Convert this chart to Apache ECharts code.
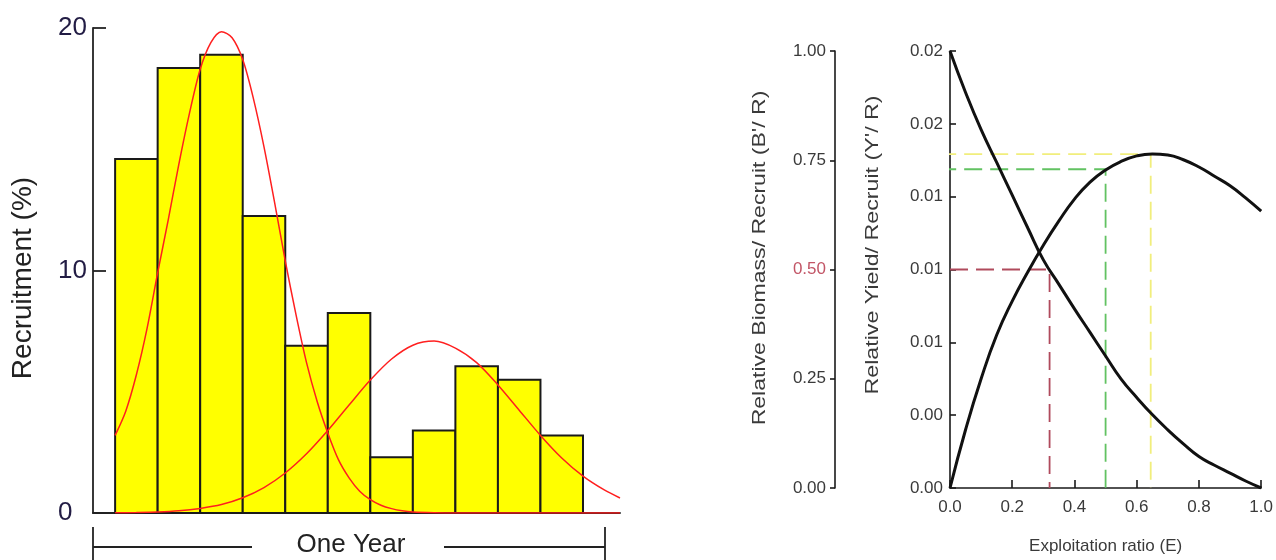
<!DOCTYPE html>
<html>
<head>
<meta charset="utf-8">
<title>Recruitment pattern and relative yield / biomass per recruit</title>
<script src="https://cdn.jsdelivr.net/npm/echarts@6.0.0/dist/echarts.min.js"></script>
<style>
  html, body { margin: 0; padding: 0; background: #ffffff; }
  #chart { width: 1276px; height: 560px; }
</style>
</head>
<body>
<div id="chart"></div>
<script>
// ---- Recruitment histogram (one year split into 11 classes) ----
const classEdges = [0, 1, 2, 3, 4, 5, 6, 7, 8, 9, 10, 11];
const recruitPct = [14.6, 18.35, 18.9, 12.25, 6.9, 8.25, 2.3, 3.4, 6.05, 5.5, 3.2];
const recruitTicks = [0, 10, 20];

// Fitted normal components (first and second recruitment pulse)
const pulseAX = [0, 0.25, 0.5, 0.75, 1, 1.25, 1.5, 1.75, 2, 2.25, 2.5, 2.75, 3, 3.25, 3.5, 3.75,
                 4, 4.25, 4.5, 4.75, 5, 5.25, 5.5, 5.75, 6, 6.25, 6.5, 6.75, 7, 7.5, 8, 9, 10, 11, 11.87];
const pulseAY = [3.2, 4.2, 5.7, 7.6, 9.9, 12.1, 14.4, 16.5, 18.3, 19.4, 19.85, 19.6, 18.7, 17.1, 15.1, 12.8,
                 10.4, 8.2, 6.2, 4.6, 3.3, 2.2, 1.45, 0.9, 0.55, 0.32, 0.18, 0.09, 0.04, 0.01, 0, 0, 0, 0, 0];
const pulseBX = [0, 0.5, 1, 1.5, 2, 2.5, 3, 3.5, 4, 4.5, 5, 5.5, 6, 6.5, 7, 7.5, 8, 8.5, 9, 9.5,
                 10, 10.5, 11, 11.5, 11.87];
const pulseBY = [0.01, 0.02, 0.04, 0.09, 0.19, 0.35, 0.63, 1.05, 1.65, 2.44, 3.4, 4.45, 5.48, 6.35, 6.92, 7.09,
                 6.8, 6.2, 5.28, 4.24, 3.2, 2.27, 1.52, 0.95, 0.62];

// ---- Relative yield and biomass per recruit vs exploitation ratio ----
const exploitE = [0, 0.05, 0.1, 0.15, 0.2, 0.25, 0.3, 0.35, 0.4, 0.45, 0.5,
                  0.55, 0.6, 0.65, 0.7, 0.75, 0.8, 0.85, 0.9, 0.95, 1.0];
const biomassPerRecruit = [1.0, 0.905, 0.82, 0.745, 0.67, 0.595, 0.522, 0.466, 0.41, 0.356, 0.302,
                           0.249, 0.207, 0.168, 0.133, 0.101, 0.072, 0.052, 0.034, 0.016, 0.0];
const yieldPerRecruit = [0, 0.0024, 0.0045, 0.0063, 0.0077, 0.0089, 0.0100, 0.0110, 0.0119, 0.0126, 0.0131,
                         0.01345, 0.01368, 0.01376, 0.01372, 0.01352, 0.01322, 0.01284, 0.01245, 0.01195, 0.0114];
const yieldTickLabels = ['0.00', '0.00', '0.01', '0.01', '0.01', '0.02', '0.02'];
const yieldStep = 0.003;

// Reference points: E50 (B'/R = 0.5), E0.1 and Emax
const e50 = 0.32, bAtE50 = 0.5;
const e10 = 0.5, yAtE10 = 0.01313;
const eMax = 0.645, yAtEMax = 0.01375;
const refLineStart = -0.038;

const zip = (xs, ys) => xs.map((x, i) => [x, ys[i]]);

const sans = "'Liberation Sans', Arial, sans-serif";
const leftInk = '#221c44';
const rightInk = '#3a3a3a';

const chart = echarts.init(document.getElementById('chart'), null, { renderer: 'canvas' });

chart.setOption({
  animation: false,
  backgroundColor: '#ffffff',
  grid: [
    { left: 93, top: 28, width: 527, height: 485 },
    { left: 950, top: 51, width: 313, height: 437 }
  ],
  xAxis: [
    {
      gridIndex: 0, type: 'value', min: -0.52, max: 11.87,
      axisLine: { show: true, onZero: false, lineStyle: { color: '#222', width: 1.8 } },
      axisTick: { show: false }, axisLabel: { show: false }, splitLine: { show: false }
    },
    {
      gridIndex: 1, type: 'value', min: 0, max: 1, interval: 0.2,
      name: 'Exploitation ratio (E)', nameLocation: 'middle', nameGap: 50,
      nameTextStyle: { fontFamily: sans, fontSize: 17, color: rightInk },
      axisLine: { show: true, onZero: false, lineStyle: { color: '#1a1a1a', width: 1.6 } },
      axisTick: { show: true, inside: true, length: 8, lineStyle: { color: '#1a1a1a', width: 1.6 } },
      axisLabel: { margin: 11, fontFamily: sans, fontSize: 17, color: rightInk,
                   formatter: v => v.toFixed(1) },
      splitLine: { show: false }
    }
  ],
  yAxis: [
    {
      gridIndex: 0, type: 'value', min: recruitTicks[0], max: recruitTicks[recruitTicks.length - 1], interval: 10,
      axisLine: { show: true, onZero: false, lineStyle: { color: '#222', width: 1.8 } },
      axisTick: { show: true, inside: true, length: 13, lineStyle: { color: '#222', width: 1.8 } },
      axisLabel: { align: 'left', margin: 35, fontFamily: sans, fontSize: 26, color: leftInk },
      splitLine: { show: false }
    },
    {
      gridIndex: 1, type: 'value', min: 0, max: 1, interval: 0.25, position: 'left', offset: 115,
      axisLine: { show: true, onZero: false, lineStyle: { color: '#1a1a1a', width: 1.6 } },
      axisTick: { show: true, inside: false, length: 5, lineStyle: { color: '#1a1a1a', width: 1.6 } },
      axisLabel: { margin: 9, fontFamily: sans, fontSize: 17,
                   color: v => (Math.abs(v - bAtE50) < 1e-9 ? '#c25566' : rightInk),
                   formatter: v => v.toFixed(2) },
      splitLine: { show: false }
    },
    {
      gridIndex: 1, type: 'value', min: 0, max: yieldStep * 6, interval: yieldStep, position: 'left', offset: 0,
      axisLine: { show: true, onZero: false, lineStyle: { color: '#1a1a1a', width: 1.6 } },
      axisTick: { show: true, inside: true, length: 6, lineStyle: { color: '#1a1a1a', width: 1.6 } },
      axisLabel: { margin: 7, fontFamily: sans, fontSize: 17, color: rightInk,
                   formatter: v => yieldTickLabels[Math.round(v / yieldStep)] },
      splitLine: { show: false }
    }
  ],
  series: [
    {
      name: 'Recruitment', type: 'custom', xAxisIndex: 0, yAxisIndex: 0, z: 2,
      data: recruitPct.map((v, i) => [classEdges[i], classEdges[i + 1], v]),
      encode: { x: [0, 1], y: 2 },
      renderItem: (params, api) => {
        const top = api.coord([api.value(0), api.value(2)]);
        const base = api.coord([api.value(1), 0]);
        return {
          type: 'rect',
          shape: { x: top[0], y: top[1], width: base[0] - top[0], height: base[1] - top[1] },
          style: { fill: '#ffff00', stroke: '#1a1a1a', lineWidth: 2 }
        };
      }
    },
    {
      name: 'Pulse 1', type: 'line', xAxisIndex: 0, yAxisIndex: 0, z: 4,
      data: zip(pulseAX, pulseAY), smooth: 0.3, symbol: 'none',
      lineStyle: { color: '#ff1f1f', width: 1.5 }
    },
    {
      name: 'Pulse 2', type: 'line', xAxisIndex: 0, yAxisIndex: 0, z: 4,
      data: zip(pulseBX, pulseBY), smooth: 0.3, symbol: 'none',
      lineStyle: { color: '#ff1f1f', width: 1.5 }
    },
    {
      name: 'Emax', type: 'line', xAxisIndex: 1, yAxisIndex: 2, z: 2, clip: false,
      data: [[refLineStart, yAtEMax], [eMax, yAtEMax], [eMax, 0]], symbol: 'none',
      lineStyle: { color: '#f1ee7c', width: 1.8, type: [18, 8] }
    },
    {
      name: 'E0.1', type: 'line', xAxisIndex: 1, yAxisIndex: 2, z: 2, clip: false,
      data: [[refLineStart, yAtE10], [e10, yAtE10], [e10, 0]], symbol: 'none',
      lineStyle: { color: '#62c262', width: 1.8, type: [18, 8] }
    },
    {
      name: 'E50', type: 'line', xAxisIndex: 1, yAxisIndex: 1, z: 2,
      data: [[0, bAtE50], [e50, bAtE50], [e50, 0]], symbol: 'none',
      lineStyle: { color: '#b04a5c', width: 1.8, type: [18, 8] }
    },
    {
      name: "B'/R", type: 'line', xAxisIndex: 1, yAxisIndex: 1, z: 4,
      data: zip(exploitE, biomassPerRecruit), smooth: 0.5, symbol: 'none',
      lineStyle: { color: '#111', width: 3 }
    },
    {
      name: "Y'/R", type: 'line', xAxisIndex: 1, yAxisIndex: 2, z: 4,
      data: zip(exploitE, yieldPerRecruit), smooth: 0.5, symbol: 'none',
      lineStyle: { color: '#111', width: 3 }
    }
  ],
  graphic: [
    // one-year span bracket under the histogram
    { type: 'line', shape: { x1: 93, y1: 527, x2: 93, y2: 560 }, style: { stroke: '#222', lineWidth: 1.8 } },
    { type: 'line', shape: { x1: 93, y1: 547, x2: 252, y2: 547 }, style: { stroke: '#222', lineWidth: 1.8 } },
    { type: 'line', shape: { x1: 444, y1: 547, x2: 605, y2: 547 }, style: { stroke: '#222', lineWidth: 1.8 } },
    { type: 'line', shape: { x1: 605, y1: 527, x2: 605, y2: 560 }, style: { stroke: '#222', lineWidth: 1.8 } },
    { type: 'text', x: 351, y: 545,
      style: { text: 'One Year', fontFamily: sans, fontSize: 26, fill: '#222', align: 'center', verticalAlign: 'middle' } },
    // axis titles
    { type: 'text', x: 23, y: 278, rotation: Math.PI / 2,
      style: { text: 'Recruitment (%)', fontFamily: sans, fontSize: 28, fill: '#222', align: 'center', verticalAlign: 'middle' } },
    { type: 'text', x: 760, y: 258, rotation: Math.PI / 2, scaleX: 1.28,
      style: { text: "Relative Biomass/ Recruit (B'/ R)", fontFamily: sans, fontSize: 18, fill: rightInk, align: 'center', verticalAlign: 'middle' } },
    { type: 'text', x: 873, y: 245, rotation: Math.PI / 2, scaleX: 1.29,
      style: { text: "Relative Yield/ Recruit (Y'/ R)", fontFamily: sans, fontSize: 18, fill: rightInk, align: 'center', verticalAlign: 'middle' } }
  ]
});
</script>
</body>
</html>
